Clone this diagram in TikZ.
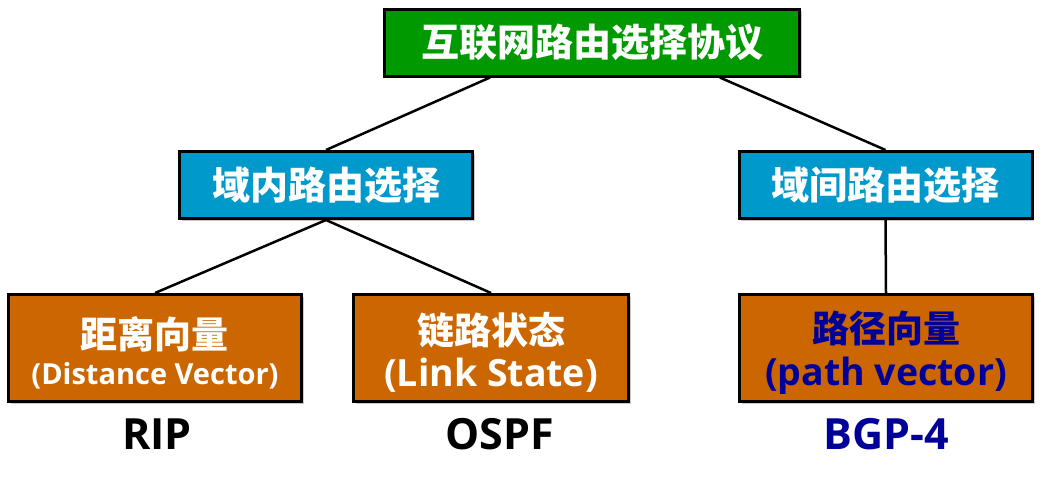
\documentclass[tikz,border=0pt]{standalone}
\usepackage{fontspec}
\setmainfont{Open Sans}
\newfontfamily\cjk{Noto Sans CJK SC}
\usetikzlibrary{shadows,calc}
\definecolor{rootgreen}{HTML}{009900}
\definecolor{boxblue}{HTML}{0099CC}
\definecolor{boxorange}{HTML}{CC6600}
\definecolor{textblue}{HTML}{000099}
\begin{document}
\begin{tikzpicture}[x=1pt,y=-1pt,
		box/.style={rectangle,draw=black,line width=3pt,text=white,align=center,
			drop shadow={shadow xshift=2pt,shadow yshift=-2pt,opacity=0.35,fill=black!60}},
		root node/.style={box,fill=rootgreen,minimum width=415pt,minimum height=67pt,font=\cjk\bfseries\fontsize{38}{40}\selectfont},
		domain node/.style={box,fill=boxblue,minimum width=293pt,minimum height=67pt,font=\cjk\bfseries\fontsize{38}{40}\selectfont},
		algo node/.style={box,fill=boxorange,minimum height=107pt,inner sep=0pt},
		proto/.style={font=\bfseries\fontsize{43}{46}\selectfont}
		]
		
		\def \cn {\rule{0pt}{41pt}\cjk\bfseries\fontsize{37}{40}\selectfont};
		
		\useasboundingbox (0,0) rectangle (1047,485);
		
		\node[root node] at (592,42.5) (root) {互联网路由选择协议};
		\node[domain node] at (326,185) (intra) {域内路由选择};
		\node[domain node] at (885.5,185) (inter) {域间路由选择};
		
		\node[algo node,minimum width=293pt] at (155,348) (dv) {{\cn 距离向量}\\[9pt]{\bfseries\fontsize{29}{40}\selectfont (Distance Vector)}};
		\node[algo node,minimum width=275pt] at (491,348) (ls) {{\cn 链路状态}\\[9pt]{\bfseries\fontsize{37.5}{40}\selectfont (Link State)}};
		\node[algo node,minimum width=293pt,text=textblue] at (886,348) (pv) {{\cn 路径向量}\\[9pt]{\bfseries\fontsize{37.5}{40}\selectfont (path vector)}};
		
		\node[proto] at (157,434) (rip) {RIP};
		\node[proto] at (500,434) (ospf) {OSPF};
		\node[proto,text=textblue] at (886,434) (bgp) {BGP-4};
		
		\draw[line width=2.5pt] ($(root.south west)!0.256!(root.south east)$) -- (intra.north);
		\draw[line width=2.5pt] ($(root.south west)!0.806!(root.south east)$) -- (inter.north);
		\draw[line width=2.5pt] (intra.south) -- (dv.north);
		\draw[line width=2.5pt] (intra.south) -- (ls.north);
		\draw[line width=2.5pt] (inter.south) -- (pv.north);
		
\end{tikzpicture}
\end{document}
